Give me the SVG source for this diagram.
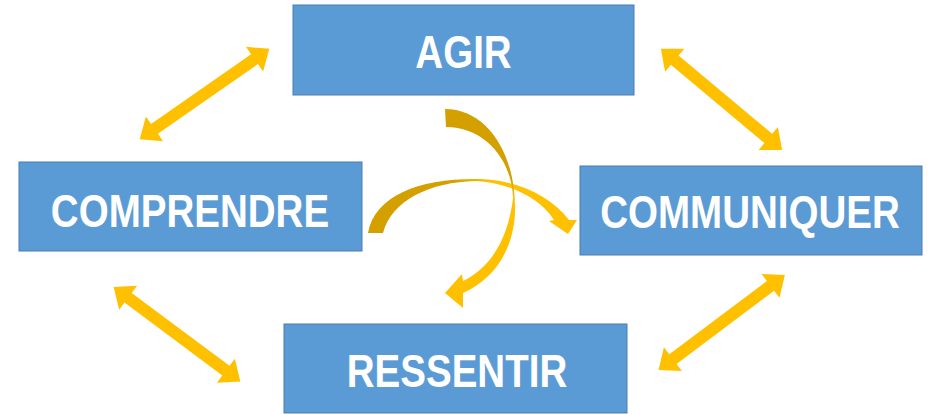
<svg xmlns="http://www.w3.org/2000/svg" width="928" height="414" viewBox="0 0 928 414">
  <style>
    .box { fill: #5B9BD5; stroke: #4A7DB0; stroke-width: 1; }
    .label { fill: #FFFFFF; font-family: "Liberation Sans", Arial, sans-serif; font-weight: bold; font-size: 47px; text-anchor: middle; }
    .dbl { fill: #FFC000; }
  </style>
  <defs>
    <!-- straight two-headed arrow, 158 long, centred on the origin -->
    <path id="double-arrow" d="M -79,0 L -61,-15 L -61,-6 L 61,-6 L 61,-15 L 79,0 L 61,15 L 61,6 L -61,6 L -61,15 Z"/>
    <linearGradient id="gold-v" gradientUnits="userSpaceOnUse" x1="0" y1="178" x2="0" y2="200">
      <stop offset="0" stop-color="#D4A000"/>
      <stop offset="1" stop-color="#FFC000"/>
    </linearGradient>
    <linearGradient id="gold-h" gradientUnits="userSpaceOnUse" x1="455" y1="0" x2="490" y2="0">
      <stop offset="0" stop-color="#D4A000"/>
      <stop offset="1" stop-color="#FFC000"/>
    </linearGradient>
  </defs>

  <g id="connectors">
    <use href="#double-arrow" class="dbl" transform="translate(204.5,94) rotate(-34.9)"/>
    <use href="#double-arrow" class="dbl" transform="translate(721.5,99.3) rotate(39.9)"/>
    <use href="#double-arrow" class="dbl" transform="translate(177,334.2) rotate(36.7)"/>
    <use href="#double-arrow" class="dbl" transform="translate(721.7,322.5) rotate(-36.9)"/>
    <!-- curved arrow: COMPRENDRE side towards COMMUNIQUER -->
    <path fill="url(#gold-h)" d="M 368,233 C 375,195 420,178 480,179 C 515,180 550,195 569,220 L 577,220 L 568,234 L 549,221 L 554,220 C 540,198 510,183 476,181 C 430,182 392,200 383,233 Z"/>
    <!-- curved arrow: AGIR side towards RESSENTIR -->
    <path fill="url(#gold-v)" d="M 445,109 C 485,109 514,150 515,205 C 516,245 497,278 463,293 L 463,308 L 445,293 L 462,274 L 463,281 C 490,268 508,240 513,198 C 512,160 485,127 446,127 Z"/>
  </g>

  <!-- labels are narrowed horizontally to a condensed bold face -->
  <g id="agir">
    <rect class="box" x="293" y="5" width="341" height="90"/>
    <text class="label" transform="translate(463.5,68) scale(0.82,1)">AGIR</text>
  </g>
  <g id="comprendre">
    <rect class="box" x="19" y="162" width="343" height="89"/>
    <text class="label" transform="translate(190,227) scale(0.82,1)">COMPRENDRE</text>
  </g>
  <g id="communiquer">
    <rect class="box" x="580" y="166" width="342" height="89"/>
    <text class="label" transform="translate(750,228) scale(0.82,1)">COMMUNIQUER</text>
  </g>
  <g id="ressentir">
    <rect class="box" x="284" y="324" width="343" height="89"/>
    <text class="label" transform="translate(457,387) scale(0.82,1)">RESSENTIR</text>
  </g>
</svg>
